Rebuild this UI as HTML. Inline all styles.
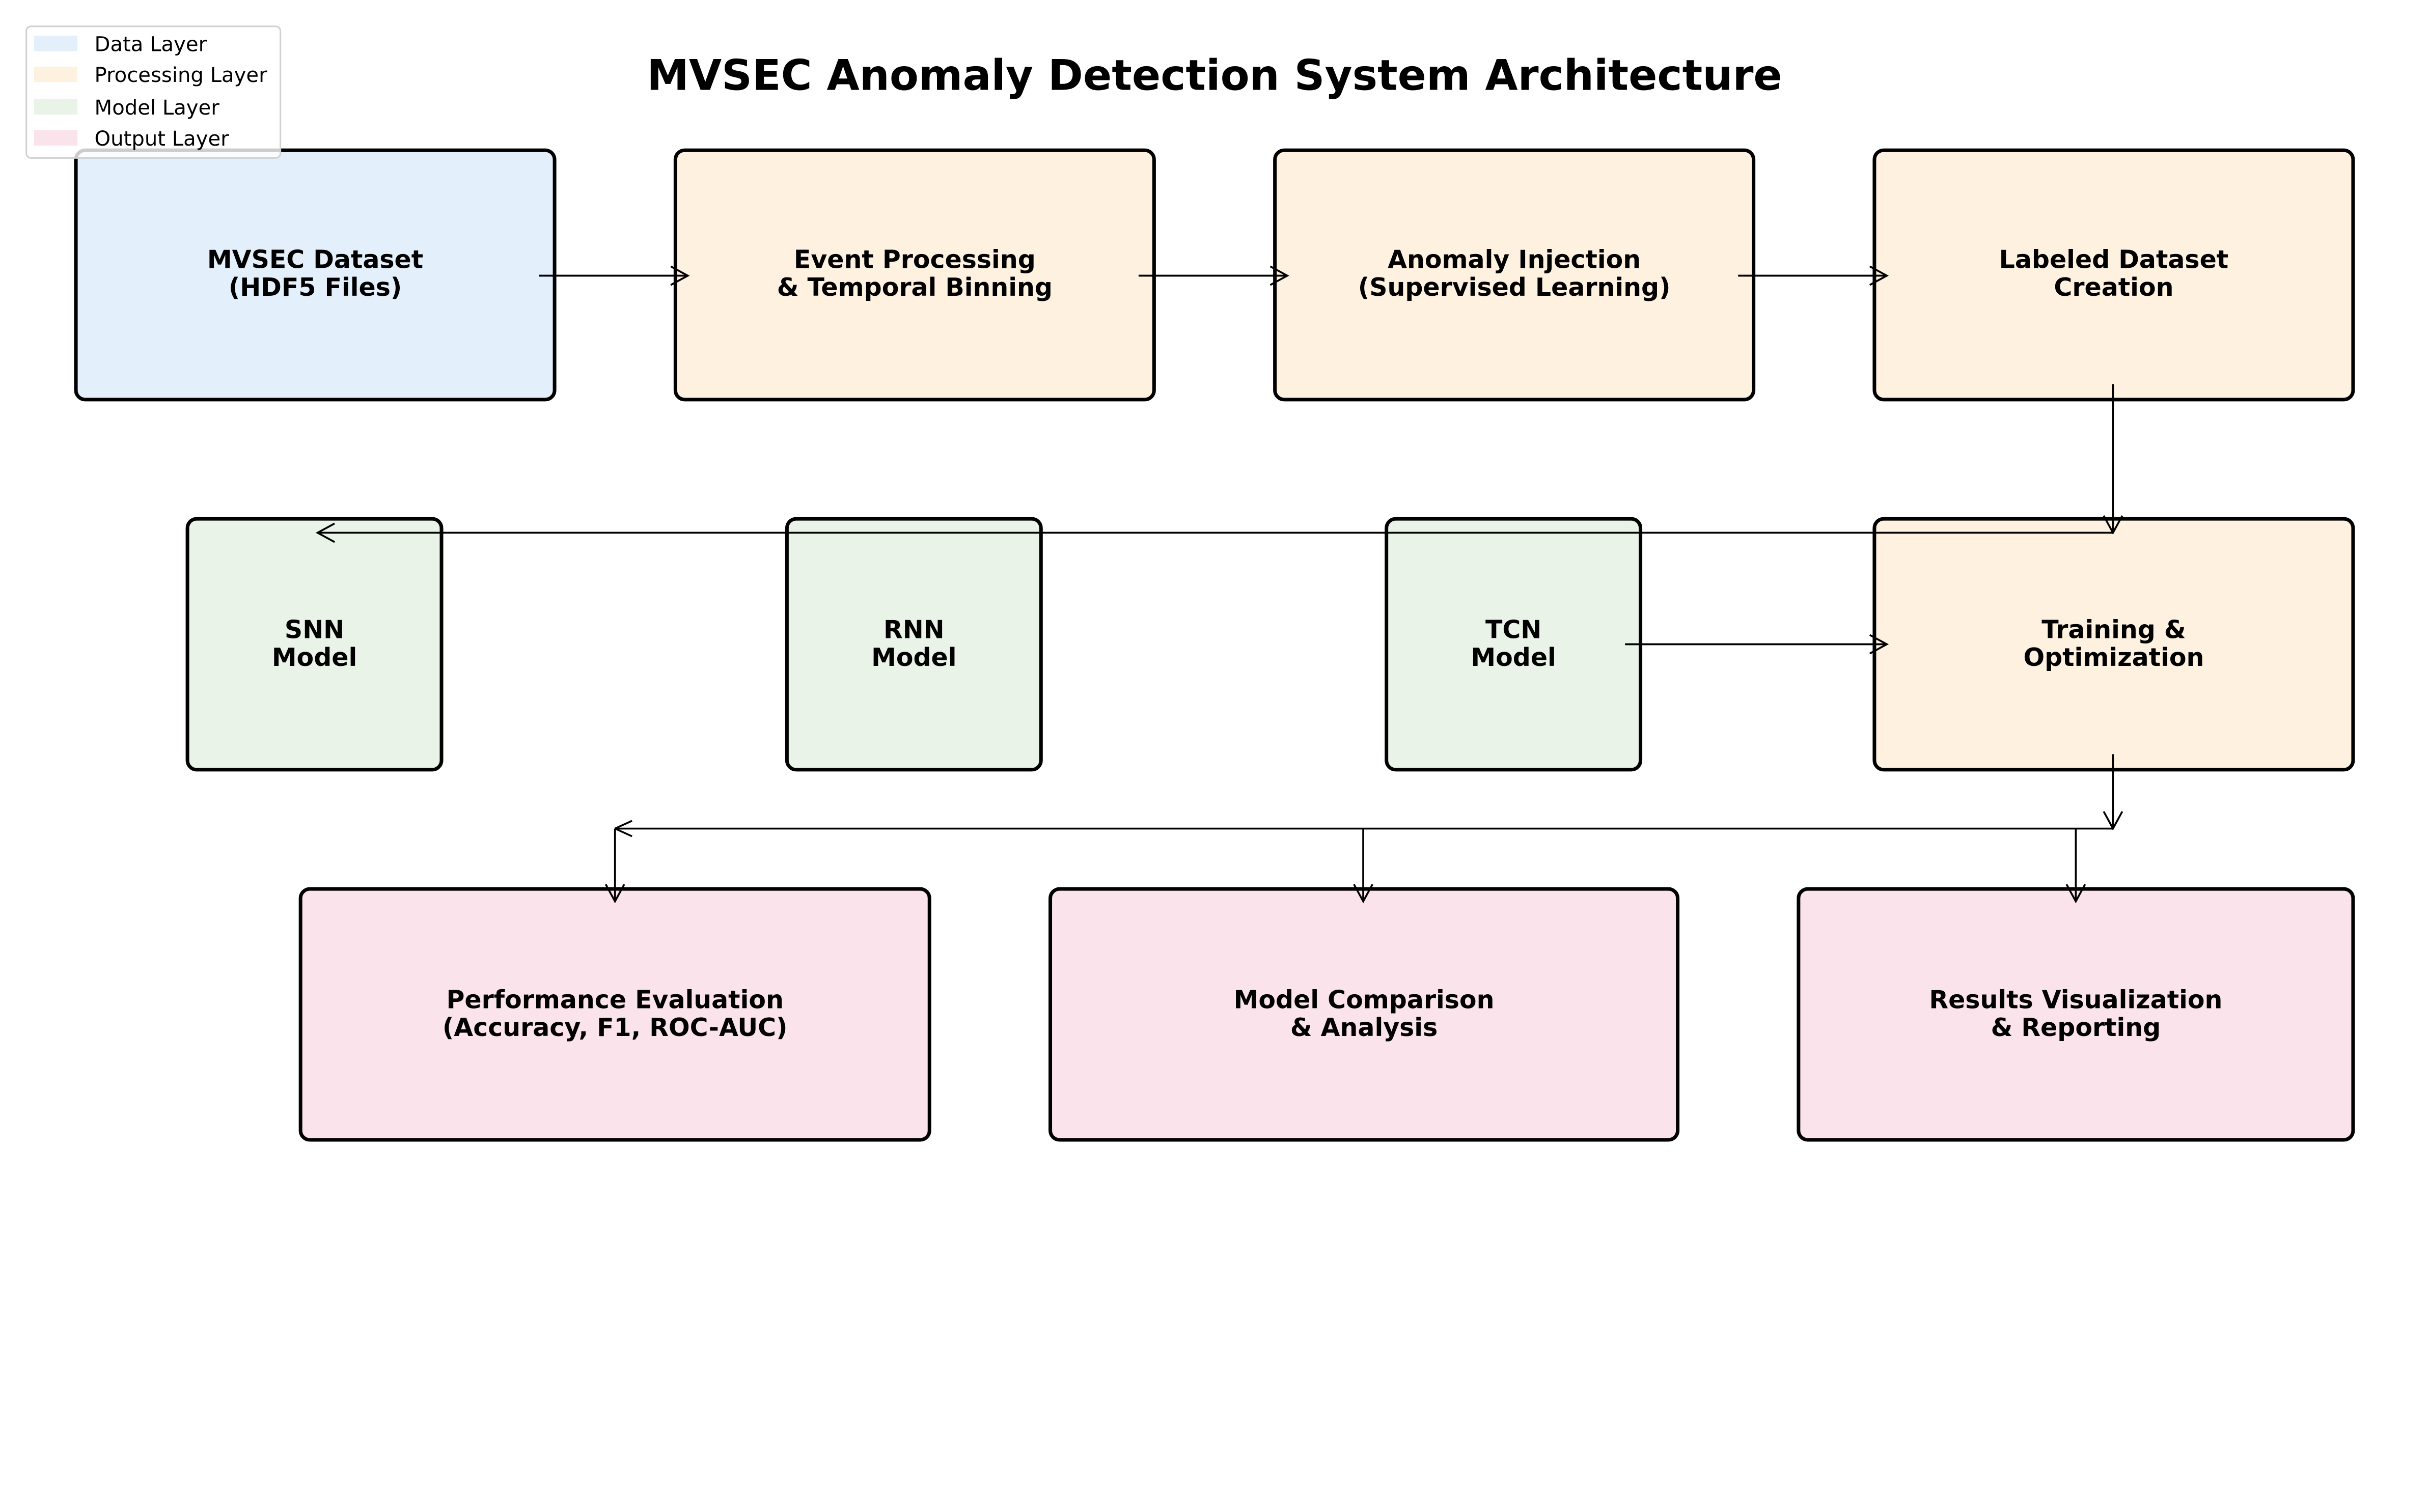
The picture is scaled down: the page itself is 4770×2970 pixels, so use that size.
<!DOCTYPE html>
<html><head><meta charset="utf-8"><style>html,body{margin:0;padding:0;background:#fff}svg{display:block}</style></head>
<body>
<svg width="4770" height="2970" viewBox="0 0 1568 976.3" preserveAspectRatio="none" xmlns="http://www.w3.org/2000/svg" font-family="'DejaVu Sans','Liberation Sans',sans-serif">
<rect width="1568" height="976.3" fill="#fff"/>
<text x="784" y="58" font-size="27.3" font-weight="bold" text-anchor="middle">MVSEC Anomaly Detection System Architecture</text>
<g stroke="#000" stroke-width="2.3">
<rect x="49" y="97" width="309" height="161" rx="6" fill="#e3f0fb"/>
<rect x="436" y="97" width="309" height="161" rx="6" fill="#fef1df"/>
<rect x="823" y="97" width="309" height="161" rx="6" fill="#fef1df"/>
<rect x="1210" y="97" width="309" height="161" rx="6" fill="#fef1df"/>
<rect x="121" y="335" width="164" height="162" rx="6" fill="#e9f3e7"/>
<rect x="508" y="335" width="164" height="162" rx="6" fill="#e9f3e7"/>
<rect x="895" y="335" width="164" height="162" rx="6" fill="#e9f3e7"/>
<rect x="1210" y="335" width="309" height="162" rx="6" fill="#fef1df"/>
<rect x="194" y="574" width="406" height="162" rx="6" fill="#fae3ea"/>
<rect x="678" y="574" width="405" height="162" rx="6" fill="#fae3ea"/>
<rect x="1161" y="574" width="358" height="162" rx="6" fill="#fae3ea"/>
</g>
<g stroke="#000" stroke-width="1.2" fill="none">
<path d="M348 178H444M433 172L444 178L433 184"/>
<path d="M735 178H831M820 172L831 178L820 184"/>
<path d="M1122 178H1218M1207 172L1218 178L1207 184"/>
<path d="M1364 248V344M1358 333L1364 344L1370 333"/>
<path d="M1364 344H205M216 338L205 344L216 350"/>
<path d="M1049 416H1218M1207 410L1218 416L1207 422"/>
<path d="M1364 487V535M1358 524L1364 535L1370 524"/>
<path d="M1364 535H397"/>
<path d="M397 535V582M391 571L397 582L403 571"/>
<path d="M880 535V582M874 571L880 582L886 571"/>
<path d="M1340 535V582M1334 571L1340 582L1346 571"/>
<path d="M397 535L408 530M397 535L408 540"/>
</g>
<g font-size="16.1" font-weight="bold" text-anchor="middle">
<text x="203.5" y="173">MVSEC Dataset</text><text x="203.5" y="191">(HDF5 Files)</text>
<text x="590.5" y="173">Event Processing</text><text x="590.5" y="191">&amp; Temporal Binning</text>
<text x="977.5" y="173">Anomaly Injection</text><text x="977.5" y="191">(Supervised Learning)</text>
<text x="1364.5" y="173">Labeled Dataset</text><text x="1364.5" y="191">Creation</text>
<text x="203" y="412">SNN</text><text x="203" y="430">Model</text>
<text x="590" y="412">RNN</text><text x="590" y="430">Model</text>
<text x="977" y="412">TCN</text><text x="977" y="430">Model</text>
<text x="1364.5" y="412">Training &amp;</text><text x="1364.5" y="430">Optimization</text>
<text x="397" y="651">Performance Evaluation</text><text x="397" y="669">(Accuracy, F1, ROC-AUC)</text>
<text x="880.5" y="651">Model Comparison</text><text x="880.5" y="669">&amp; Analysis</text>
<text x="1340" y="651">Results Visualization</text><text x="1340" y="669">&amp; Reporting</text>
</g>
<rect x="17" y="17" width="164" height="85" rx="3" fill="#fff" fill-opacity="0.8" stroke="#d0d0d0" stroke-width="1"/>
<rect x="22" y="23" width="28" height="10" fill="#e3f0fb"/>
<rect x="22" y="43" width="28" height="10" fill="#fef1df"/>
<rect x="22" y="64" width="28" height="10" fill="#e9f3e7"/>
<rect x="22" y="84" width="28" height="10" fill="#fae3ea"/>
<g font-size="13.2">
<text x="61" y="33">Data Layer</text>
<text x="61" y="53">Processing Layer</text>
<text x="61" y="74">Model Layer</text>
<text x="61" y="94">Output Layer</text>
</g>
</svg>
</body></html>
